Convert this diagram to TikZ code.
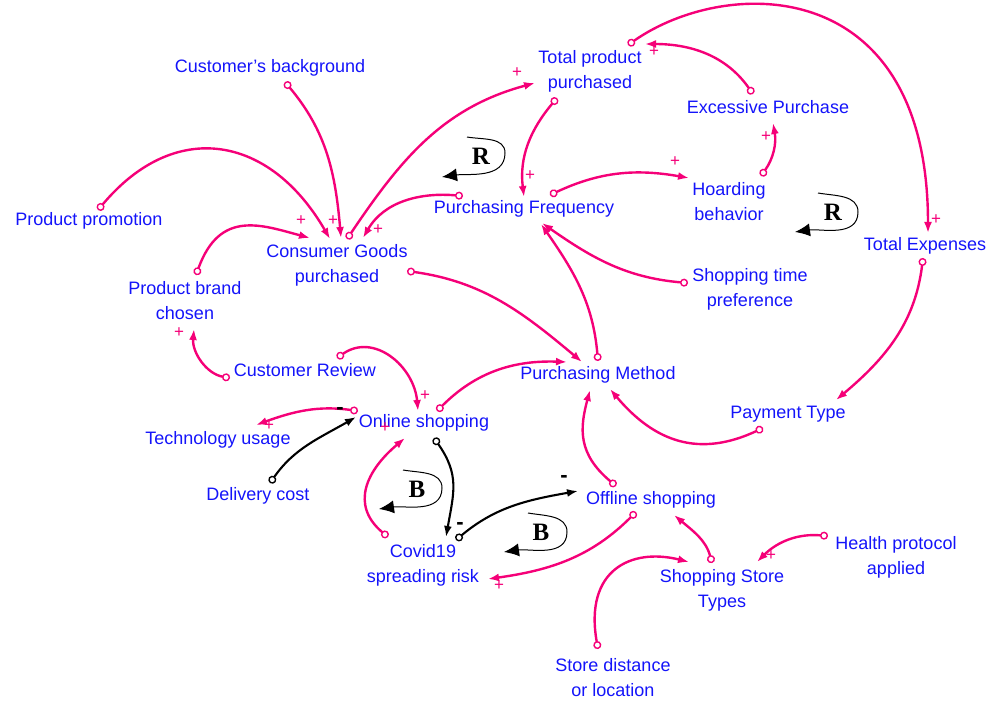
\documentclass[tikz,border=0pt]{standalone}
\usepackage{fontspec}
\setmainfont{Liberation Sans}
\newfontfamily\loopfont{Liberation Serif}
\usetikzlibrary{arrows.meta}
\definecolor{vpink}{RGB}{245,0,120}
\definecolor{vblue}{RGB}{20,20,250}
\begin{document}
\begin{tikzpicture}[x=1pt,y=1pt,
  var/.style={text=vblue, font=\fontsize{18}{25}\selectfont, align=center, inner sep=0pt},
  link/.style={draw=vpink, line width=2.4pt, {Circle[open,length=8pt,width=8pt,line width=1.4pt]}-{Latex[length=11pt,width=8pt]}},
  neglink/.style={draw=black, line width=2.1pt, {Circle[open,length=8pt,width=8pt,line width=1.4pt]}-{Latex[length=11pt,width=8pt]}},
  plussign/.style={text=vpink, font=\fontsize{17}{17}\selectfont, inner sep=0pt},
  minussign/.style={text=black, font=\bfseries\fontsize{22}{22}\selectfont, inner sep=0pt},
  looplabel/.style={font=\loopfont\bfseries\fontsize{25}{25}\selectfont, inner sep=0pt},
  looparc/.style={draw=black, line width=1pt, -{Latex[length=15pt,width=13pt]}}
]
\useasboundingbox (0,0) rectangle (990,702);

% variables
\node[var] (cb) at (270,634) {Customer's background};
\node[var] (pp) at (89,481) {Product promotion};
\node[var] (cg) at (337,437) {Consumer Goods\\purchased};
\node[var] (pb) at (185,401) {Product brand\\chosen};
\node[var] (tp) at (590,631) {Total product\\purchased};
\node[var] (ep) at (768,595) {Excessive Purchase};
\node[var] (pf) at (524,493) {Purchasing Frequency};
\node[var] (hb) at (729,500) {Hoarding\\behavior};
\node[var] (te) at (925,456) {Total Expenses};
\node[var] (st) at (750,413) {Shopping time\\preference};
\node[var] (pm) at (598,327) {Purchasing Method};
\node[var] (cr) at (305,332) {Customer Review};
\node[var] (on) at (424,279) {Online shopping};
\node[var] (tu) at (218,262) {Technology usage};
\node[var] (pt) at (788,288) {Payment Type};
\node[var] (dc) at (258,206) {Delivery cost};
\node[var] (of) at (651,202) {Offline shopping};
\node[var] (cv) at (423,137) {Covid19\\spreading risk};
\node[var] (ss) at (722,112) {Shopping Store\\Types};
\node[var] (hp) at (896,145) {Health protocol\\applied};
\node[var] (sd) at (613,24) {Store distance\\or location};

% pink (positive) links
\draw[link] ([shift={(15,-14)}]cb.center) to[out=-50,in=95] ([shift={(4,27)}]cg.center);
\draw[link] ([shift={(9,11)}]pp.center) to[out=50,in=120,out distance=120pt,in distance=120pt] ([shift={(-7,26)}]cg.center);
\draw[link] ([shift={(11,26)}]pb.center) to[out=70,in=165,out distance=70pt,in distance=50pt] ([shift={(-27,27)}]cg.center);
\draw[link] ([shift={(10,26)}]cg.center) to[out=56,in=-165] ([shift={(-55,-12)}]tp.center);
\draw[link] ([shift={(-61,13)}]pf.center) to[out=175,in=60] ([shift={(26,27)}]cg.center);
\draw[link] ([shift={(70,-6)}]cg.center) to[out=-8,in=140] ([shift={(-16,13)}]pm.center);
\draw[link] ([shift={(-33,-27)}]tp.center) to[out=-130,in=97] ([shift={(0,12)}]pf.center);
\draw[link] ([shift={(26,14)}]pf.center) to[out=25,in=170] ([shift={(-40,24)}]hb.center);
\draw[link] ([shift={(32,26)}]hb.center) to[out=55,in=-80] ([shift={(5,-16)}]ep.center);
\draw[link] ([shift={(-15,13)}]ep.center) to[out=125,in=0] ([shift={(55,27)}]tp.center);
\draw[link] ([shift={(38,26)}]tp.center) to[out=35,in=90,out distance=120pt,in distance=260pt] ([shift={(3,13)}]te.center);
\draw[link] ([shift={(-62,6)}]st.center) to[out=175,in=-35] ([shift={(18,-14)}]pf.center);
\draw[link] ([shift={(0,14)}]pm.center) to[out=95,in=-55] ([shift={(17,-15)}]pf.center);
\draw[link] ([shift={(-2,-12)}]te.center) to[out=-97,in=40] ([shift={(48,14)}]pt.center);
\draw[link] ([shift={(-25,-14)}]pt.center) to[out=-155,in=-50,out distance=70pt,in distance=70pt] ([shift={(12,-14)}]pm.center);
\draw[link] ([shift={(-35,14)}]of.center) to[out=140,in=-105,out distance=50pt,in distance=40pt] ([shift={(-8,-15)}]pm.center);
\draw[link] ([shift={(13,12)}]on.center) to[out=45,in=178] ([shift={(-31,13)}]pm.center);
\draw[link] ([shift={(32,12)}]cr.center) to[out=35,in=95,out distance=45pt,in distance=45pt] ([shift={(-6,12)}]on.center);
\draw[link] ([shift={(-75,-8)}]cr.center) to[out=170,in=-95] ([shift={(9,-28)}]pb.center);
\draw[link] ([shift={(-66,12)}]on.center) to[out=172,in=20] ([shift={(38,15)}]tu.center);
\draw[link] ([shift={(-35,28)}]cv.center) to[out=140,in=-140,out distance=50pt,in distance=50pt] ([shift={(-19,-15)}]on.center);
\draw[link] ([shift={(-15,-12)}]of.center) to[out=-135,in=8] ([shift={(65,-14)}]cv.center);
\draw[link] ([shift={(-10,27)}]ss.center) to[out=105,in=-40] ([shift={(23,-15)}]of.center);
\draw[link] ([shift={(-15,29)}]sd.center) to[out=100,in=166,out distance=80pt,in distance=60pt] ([shift={(-33,28)}]ss.center);
\draw[link] ([shift={(-68,21)}]hp.center) to[out=175,in=45] ([shift={(35,28)}]ss.center);

% black (negative) links
\draw[neglink] ([shift={(12,13)}]dc.center) to[out=55,in=-150] ([shift={(-68,6)}]on.center);
\draw[neglink] ([shift={(10,-15)}]on.center) to[out=-55,in=80,out distance=45pt,in distance=45pt] ([shift={(23,28)}]cv.center);
\draw[neglink] ([shift={(33,25)}]cv.center) to[out=40,in=-170] ([shift={(-73,9)}]of.center);

% polarity signs
\node[plussign] (s1) at (301,481) {+};
\node[plussign] (s2) at (333,481) {+};
\node[plussign] (s3) at (378,472) {+};
\node[plussign] (s4) at (517,629) {+};
\node[plussign] (s5) at (530,526) {+};
\node[plussign] (s6) at (675,540) {+};
\node[plussign] (s7) at (766,565) {+};
\node[plussign] (s8) at (654,650) {+};
\node[plussign] (s9) at (936,482) {+};
\node[plussign] (s10) at (425,306) {+};
\node[plussign] (s11) at (179,369) {+};
\node[plussign] (s12) at (269,276) {+};
\node[plussign] (s13) at (385,274) {+};
\node[plussign] (s14) at (499,116) {+};
\node[plussign] (s15) at (771,146) {+};
\node[minussign] (m1) at (340,291) {-};
\node[minussign] (m2) at (460,176) {-};
\node[minussign] (m3) at (564,223) {-};

% loop markers
\node[looplabel] (r1) at (481,546) {R};
\draw[looparc] (467,565) to[out=-10,in=90] (505,549) to[out=-90,in=8] (442,525);
\node[looplabel] (r2) at (833,490) {R};
\draw[looparc] (818,509) to[out=-10,in=90] (858,490) to[out=-90,in=8] (795,470);
\node[looplabel] (b1) at (417,213) {B};
\draw[looparc] (403,232) to[out=-10,in=90] (442,214) to[out=-90,in=8] (379,193);
\node[looplabel] (b2) at (541,170) {B};
\draw[looparc] (528,189) to[out=-10,in=90] (567,170) to[out=-90,in=8] (504,150);
\end{tikzpicture}
\end{document}
